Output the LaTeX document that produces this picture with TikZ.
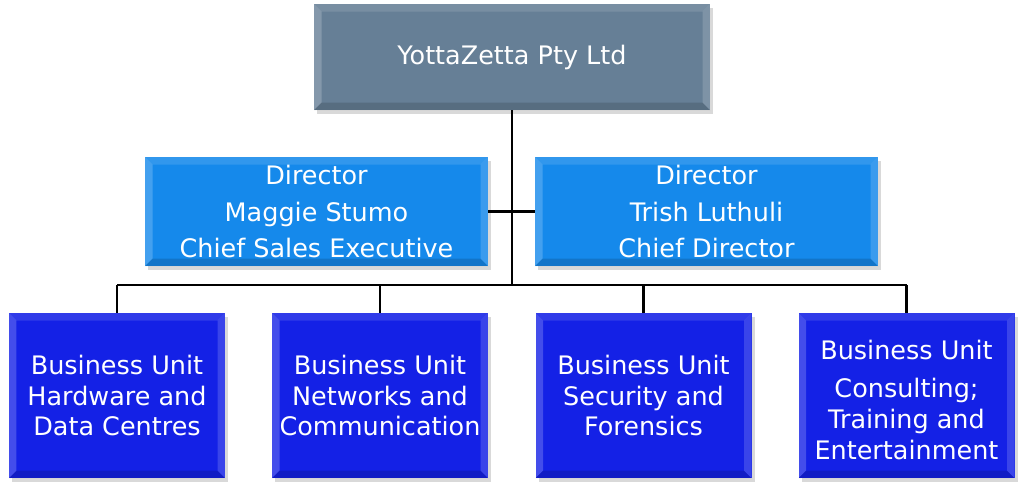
\documentclass[tikz,border=0pt]{standalone}
\usepackage{fontspec}
\setmainfont{DejaVu Sans}
\usetikzlibrary{positioning,shadows}

\definecolor{topgray}{HTML}{667F96}
\definecolor{dirblue}{HTML}{1589EB}
\definecolor{unitblue}{HTML}{1421E6}

\tikzset{
  bevel/.style={path picture={
    \coordinate (pnw) at (path picture bounding box.north west);
    \coordinate (pne) at (path picture bounding box.north east);
    \coordinate (psw) at (path picture bounding box.south west);
    \coordinate (pse) at (path picture bounding box.south east);
    \fill[white,opacity=.12] (pnw) -- (pne) -- ([shift={(-.15,-.15)}]pne) -- ([shift={(.15,-.15)}]pnw) -- cycle;
    \fill[white,opacity=.2] (pnw) -- (psw) -- ([shift={(.15,.15)}]psw) -- ([shift={(.15,-.15)}]pnw) -- cycle;
    \fill[white,opacity=.16] (pne) -- (pse) -- ([shift={(-.15,.15)}]pse) -- ([shift={(-.15,-.15)}]pne) -- cycle;
    \fill[black,opacity=.14] (psw) -- (pse) -- ([shift={(-.15,.15)}]pse) -- ([shift={(.15,.15)}]psw) -- cycle;
  }},
  box/.style={bevel, draw=none, text=white, align=center, font=\fontsize{14.5}{17.5}\selectfont,
    inner sep=0pt, drop shadow={opacity=.3, shadow xshift=.06, shadow yshift=-.08}},
  topbox/.style={box, fill=topgray, minimum width=7.92cm, minimum height=2.12cm},
  dirbox/.style={box, fill=dirblue, minimum width=6.86cm, minimum height=2.18cm,
    font=\fontsize{14.5}{21}\selectfont},
  unitbox/.style={box, fill=unitblue, minimum width=4.32cm, minimum height=3.3cm},
  link/.style={line width=1.4pt}
}

\begin{document}
\begin{tikzpicture}
  \useasboundingbox (0,0) rectangle (20.48,-9.86);
  % company
  \node[topbox] (company) at (10.24,-1.14) {YottaZetta Pty Ltd};
  % directors
  \node[dirbox] (maggie) at (6.33,-4.23) {Director\\Maggie Stumo\\Chief Sales Executive};
  \node[dirbox] (trish) at (14.13,-4.23) {Director\\Trish Luthuli\\Chief Director};
  % business units
  \node[unitbox] (hardware) at (2.34,-7.91) {Business Unit\\Hardware and\\Data Centres};
  \node[unitbox] (networks) at (7.6,-7.91) {Business Unit\\Networks and\\Communication};
  \node[unitbox] (security) at (12.87,-7.91) {Business Unit\\Security and\\Forensics};
  \node[unitbox, text height=2.55cm] (consulting) at (18.13,-7.91) {Business Unit\\[4pt]Consulting;\\Training and\\Entertainment};
  % lines
  \coordinate (bus) at (10.24,-5.7);
  \draw[link] (company.south) -- (bus);
  \draw[link] (maggie.east) -- (trish.west);
  \draw[link] (hardware.north |- bus) -- (consulting.north |- bus);
  \foreach \u in {hardware,networks,security,consulting}
    \draw[link] (\u.north |- bus) -- (\u.north);
\end{tikzpicture}
\end{document}
